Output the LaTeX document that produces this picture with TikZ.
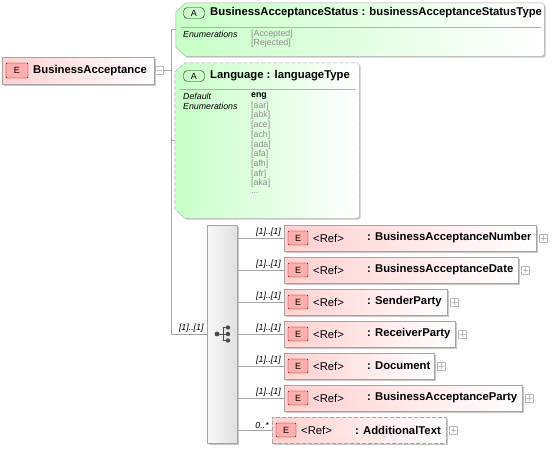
\documentclass[tikz,border=0pt]{standalone}
\usepackage{fontspec}
\setmainfont{Liberation Sans}
\usetikzlibrary{positioning,shadows}
\definecolor{elempink}{RGB}{255,208,208}
\definecolor{attrmint}{RGB}{200,255,200}
\definecolor{frame}{RGB}{165,165,165}
\definecolor{enumgrey}{RGB}{140,140,140}
\tikzset{
  shade box/.style={drop shadow={shadow xshift=1.5pt, shadow yshift=-1.5pt, fill=black, opacity=.22}},
  elem box/.style={draw=frame, left color=elempink, right color=white, shade box, minimum height=26pt, inner sep=0pt, anchor=west},
  opt/.style={dash pattern=on 4pt off 2pt},
  attr area/.style={minimum width=#1, inner sep=0pt},
  attr box/.style={draw=frame, left color=attrmint, right color=white, shade box},
  e badge/.style={draw=red!45!black, fill=red!32, rounded corners=1pt, minimum width=20pt, minimum height=14pt, inner sep=0pt, font=\fontsize{9}{10}\selectfont},
  a badge/.style={draw=green!25!black, fill=green!20, rounded corners=4pt, minimum width=21pt, minimum height=11pt, inner sep=0pt, font=\fontsize{9}{10}\selectfont},
  seq box/.style={draw=frame, left color=gray!6, right color=gray!24, shade box, minimum width=30pt, minimum height=218pt, inner sep=0pt},
  title/.style={font=\fontsize{11.3}{13}\selectfont\bfseries, anchor=west, inner sep=0pt},
  reftext/.style={font=\fontsize{11.3}{13}\selectfont, anchor=west, inner sep=0pt},
  field/.style={font=\fontsize{8.8}{10}\selectfont\itshape, anchor=west, inner sep=0pt},
  enum/.style={font=\fontsize{8.8}{10}\selectfont, text=enumgrey, anchor=west, inner sep=0pt},
  occ/.style={font=\fontsize{8.8}{10}\selectfont\itshape, inner xsep=3pt, inner ysep=1.5pt, above left},
  conn/.style={draw=gray!70, line width=.6pt},
  rule/.style={draw=gray!60, line width=.6pt},
  toggle/.style={draw=gray!55, fill=white, minimum size=8pt, inner sep=0pt},
  minus sign/.style={toggle, path picture={\draw[gray!55] ([xshift=1.5pt]path picture bounding box.west) -- ([xshift=-1.5pt]path picture bounding box.east);}},
  plus sign/.style={toggle, path picture={\draw[gray!55] ([xshift=1.5pt]path picture bounding box.west) -- ([xshift=-1.5pt]path picture bounding box.east) ([yshift=-1.5pt]path picture bounding box.north) -- ([yshift=1.5pt]path picture bounding box.south);}}
}
\newcommand\chamferbox[2][]{%
  \path[attr box,#1] ([yshift=-9pt]#2.north west) -- ([xshift=10pt]#2.north west) -- ([xshift=-2pt]#2.north east)
    -- ([yshift=-2pt]#2.north east) -- ([yshift=2pt]#2.south east) -- ([xshift=-2pt]#2.south east)
    -- ([xshift=10pt]#2.south west) -- ([yshift=9pt]#2.south west) -- cycle;}
\begin{document}
\begin{tikzpicture}[x=1pt,y=-1pt,line cap=round,line join=round]
\useasboundingbox (0,0) rectangle (555,450);
\node[elem box, minimum width=152pt, minimum height=27pt] (root) at (2,70.5) {};
\node[e badge, minimum width=22pt, minimum height=15pt] (rootE) at (17,70.5) {E};
\node[title] (rootT) at (33,70.5) {BusinessAcceptance};
\node[minus sign, right=1pt of root] (rootminus) {};
\coordinate[right=7pt of rootminus] (trunk);
\node[attr area=368pt, minimum height=53pt] (status) at (360,29.5) {};
\chamferbox{status}
\node[a badge] (statusA) at (194,13) {A};
\node[title] (statusT) at (210,13) {BusinessAcceptanceStatus : businessAcceptanceStatusType};
\draw[rule] (181,27) -- (541,27);
\node[field] (statusenum) at (183,34) {Enumerations};
\node[enum] (status-acc) at (251,34) {[Accepted]};
\node[enum] (status-rej) at (251,43.5) {[Rejected]};
\node[attr area=184pt, minimum height=155pt] (lang) at (267,140.5) {};
\chamferbox[opt]{lang}
\node[a badge] (langA) at (194,76) {A};
\node[title] (langT) at (210,76) {Language : languageType};
\draw[rule] (180,89) -- (355,89);
\node[field] (langdef) at (183,96) {Default};
\node[field] (langenum) at (183,106) {Enumerations};
\node[font=\fontsize{8.8}{10}\selectfont\bfseries, anchor=west, inner sep=0pt] (langeng) at (251,96) {eng};
\foreach \v [count=\k from 0] in {aar,abk,ace,ach,ada,afa,afh,afr,aka}
  \node[enum] (lang-\v) at (251,{106+9.7*\k}) {[\v]};
\node[enum] (langmore) at (251,193) {...};
\node[seq box] (seq) at (222,334) {};
\begin{scope}[shift={(seq.center)}]
  \draw[black!70, line width=1pt] (-5,0) -- (1,0) (1,-6.5) -- (1,6.5) (1,-6.5) -- (6,-6.5) (1,0) -- (6,0) (1,6.5) -- (6,6.5);
  \fill[black!70] (-5,0) circle (2.4) (6,-6.5) circle (2.2) (6,0) circle (2.2) (6,6.5) circle (2.2);
\end{scope}
\draw[conn] (root.east) -- (rootminus.west);
\draw[conn] (rootminus.east) -- (trunk);
\draw[conn] (lang.west) -- (lang.west -| trunk);
\draw[conn] (status.west) -| (trunk |- seq.west) -- (seq.west) node[occ] {[1]..[1]};
\foreach \xl/\boxw/\yc/\occtext/\elname/\st [count=\i] in {
    284/252/238/{[1]..[1]}/BusinessAcceptanceNumber/solid,
    284/234/270/{[1]..[1]}/BusinessAcceptanceDate/solid,
    284/163/302/{[1]..[1]}/SenderParty/solid,
    284/171/334/{[1]..[1]}/ReceiverParty/solid,
    284/150/366/{[1]..[1]}/Document/solid,
    284/238/398/{[1]..[1]}/BusinessAcceptanceParty/solid,
    272/174/430/{0..*}/AdditionalText/opt}
{
  \node[elem box, minimum width=\boxw pt, \st] (ref\i) at (\xl,\yc) {};
  \node[e badge] (ref\i-E) at ([xshift=14pt]ref\i.west) {E};
  \node[reftext] (ref\i-r) at ([xshift=29pt]ref\i.west) {<Ref>};
  \node[title] (ref\i-n) at ([xshift=83pt]ref\i.west) {: \elname};
  \node[plus sign, right=3pt of ref\i] (ref\i-p) {};
  \draw[conn] (seq.east |- ref\i.west) -- (ref\i.west) node[occ] {\occtext};
}
\end{tikzpicture}
\end{document}
